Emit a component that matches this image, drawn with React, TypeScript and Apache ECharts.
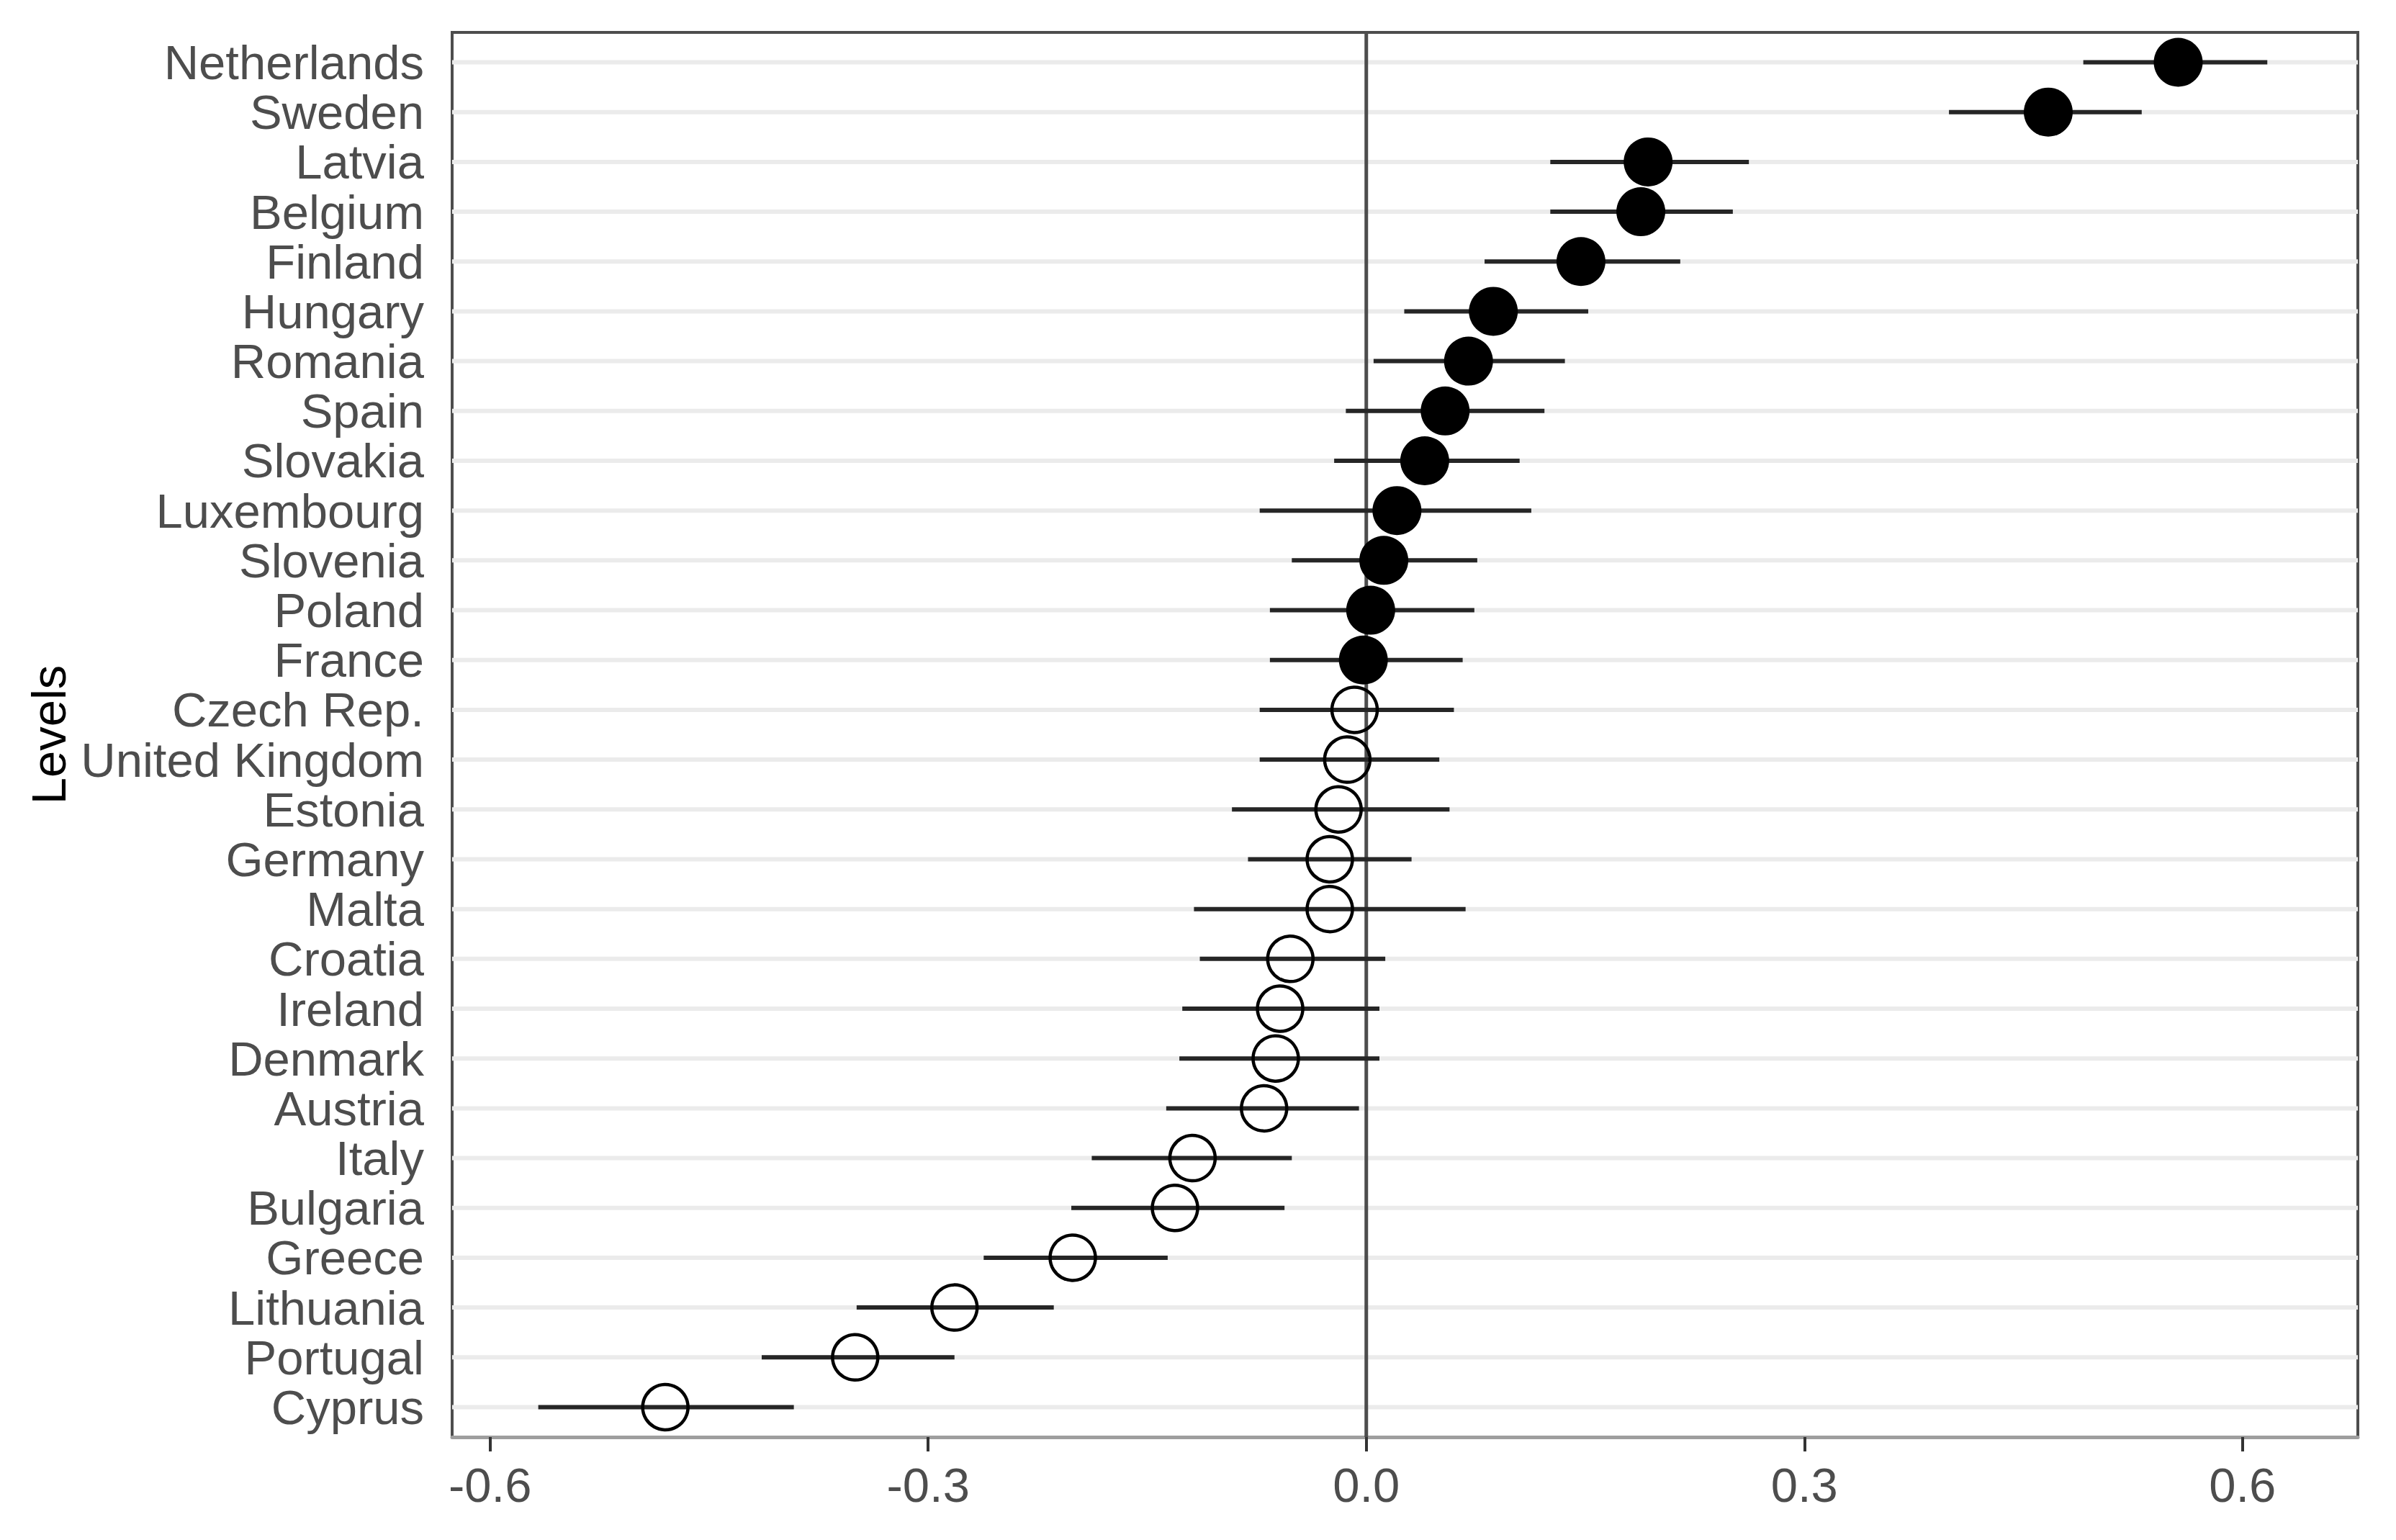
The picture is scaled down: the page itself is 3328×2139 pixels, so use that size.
import React, { useEffect, useRef } from "react";
import * as echarts from "echarts";

const countries = [
  "Netherlands", "Sweden", "Latvia", "Belgium", "Finland", "Hungary", "Romania",
  "Spain", "Slovakia", "Luxembourg", "Slovenia", "Poland", "France", "Czech Rep.",
  "United Kingdom", "Estonia", "Germany", "Malta", "Croatia", "Ireland", "Denmark",
  "Austria", "Italy", "Bulgaria", "Greece", "Lithuania", "Portugal", "Cyprus",
];
const estimates = [
  0.556, 0.467, 0.193, 0.188, 0.147, 0.087, 0.070, 0.054, 0.040, 0.021, 0.012, 0.003, -0.002,
  -0.008, -0.013, -0.019, -0.025, -0.025, -0.052, -0.059, -0.062, -0.070, -0.119, -0.131,
  -0.201, -0.282, -0.350, -0.480,
];
const lower = [
  0.491, 0.399, 0.126, 0.126, 0.081, 0.026, 0.005, -0.014, -0.022, -0.073, -0.051, -0.066, -0.066,
  -0.073, -0.073, -0.092, -0.081, -0.118, -0.114, -0.126, -0.128, -0.137, -0.188, -0.202,
  -0.262, -0.349, -0.414, -0.567,
];
const upper = [
  0.617, 0.531, 0.262, 0.251, 0.215, 0.152, 0.136, 0.122, 0.105, 0.113, 0.076, 0.074, 0.066,
  0.060, 0.050, 0.057, 0.031, 0.068, 0.013, 0.009, 0.009, -0.005, -0.051, -0.056,
  -0.136, -0.214, -0.282, -0.392,
];
const significant = [
  true, true, true, true, true, true, true, true, true, true, true, true, true,
  false, false, false, false, false, false, false, false, false, false, false,
  false, false, false, false,
];
const xTicks = [-0.6, -0.3, 0.0, 0.3, 0.6];
const xMin = -0.626;
const xMax = 0.679;
const yMin = -0.6;
const yMax = countries.length - 1 + 0.6;

const FONT = "'Liberation Sans', Arial, sans-serif";

export default function App() {
  const ref = useRef<HTMLDivElement>(null);
  useEffect(() => {
    if (!ref.current) return;
    const chart = echarts.init(ref.current, null, { renderer: "svg" });
    const idx = countries.map((_, i) => i);

    const option: any = {
      animation: false,
      backgroundColor: "#ffffff",
      grid: {
        left: 628,
        top: 45,
        width: 2647,
        height: 1951,
        show: true,
        borderColor: "#4d4d4d",
        borderWidth: 4,
        backgroundColor: "#ffffff",
        containLabel: false,
      },
      xAxis: {
        type: "value",
        min: xMin,
        max: xMax,
        axisLine: { show: true, onZero: false, lineStyle: { color: "#9e9e9e", width: 5 } },
        axisTick: { show: true, customValues: xTicks, length: 20, lineStyle: { color: "#333333", width: 4 } },
        axisLabel: {
          show: true,
          customValues: xTicks,
          formatter: (v: number) => v.toFixed(1),
          fontSize: 67,
          fontFamily: FONT,
          color: "#4d4d4d",
          margin: 33,
        },
        splitLine: { show: false },
      },
      yAxis: {
        type: "value",
        inverse: true,
        min: yMin,
        max: yMax,
        name: "Levels",
        nameLocation: "middle",
        nameGap: 525,
        nameRotate: 90,
        nameTextStyle: { fontSize: 67, fontFamily: FONT, color: "#000000" },
        axisLine: { show: false },
        axisTick: { show: true, customValues: idx, length: 21, lineStyle: { color: "#333333", width: 4 } },
        axisLabel: {
          show: true,
          customValues: idx,
          formatter: (v: number) => countries[Math.round(v)] ?? "",
          fontSize: 67,
          fontFamily: FONT,
          color: "#4d4d4d",
          margin: 39,
        },
        splitLine: { show: false },
      },
      series: [
        {
          type: "custom",
          name: "grid",
          z: 1,
          silent: true,
          data: idx.map((i) => [i]),
          encode: { y: 0 },
          renderItem: (params: any, api: any) => {
            const i = api.value(0);
            const a = api.coord([xMin, i]);
            const b = api.coord([xMax, i]);
            return {
              type: "line",
              shape: { x1: a[0], y1: a[1], x2: b[0], y2: b[1] },
              style: { stroke: "#ebebeb", lineWidth: 6 },
            };
          },
        },
        {
          type: "custom",
          name: "zero",
          z: 2,
          silent: true,
          data: [[0]],
          encode: { x: 0 },
          renderItem: (params: any, api: any) => {
            const v = api.value(0);
            const a = api.coord([v, yMin]);
            const b = api.coord([v, yMax]);
            return {
              type: "line",
              shape: { x1: a[0], y1: a[1], x2: b[0], y2: b[1] },
              style: { stroke: "#4d4d4d", lineWidth: 5 },
            };
          },
        },
        {
          type: "custom",
          name: "ci",
          z: 3,
          silent: true,
          data: idx.map((i) => [lower[i], upper[i], i]),
          encode: { x: [0, 1], y: 2 },
          renderItem: (params: any, api: any) => {
            const i = api.value(2);
            const a = api.coord([api.value(0), i]);
            const b = api.coord([api.value(1), i]);
            return {
              type: "line",
              shape: { x1: a[0], y1: a[1], x2: b[0], y2: b[1] },
              style: { stroke: "#262626", lineWidth: 6 },
            };
          },
        },
        {
          type: "scatter",
          name: "significant",
          z: 4,
          symbol: "circle",
          symbolSize: 68,
          itemStyle: { color: "#000000", opacity: 1 },
          data: idx.filter((i) => significant[i]).map((i) => [estimates[i], i]),
        },
        {
          type: "scatter",
          name: "not significant",
          z: 4,
          symbol: "circle",
          symbolSize: 63,
          itemStyle: { color: "rgba(0,0,0,0)", borderColor: "#000000", borderWidth: 4.5, opacity: 1 },
          data: idx.filter((i) => !significant[i]).map((i) => [estimates[i], i]),
        },
      ],
    };
    chart.setOption(option);
    return () => chart.dispose();
  }, []);

  return (
    <div
      ref={ref}
      style={{ position: "fixed", left: 0, top: 0, width: 3328, height: 2139, background: "#fff" }}
    />
  );
}
